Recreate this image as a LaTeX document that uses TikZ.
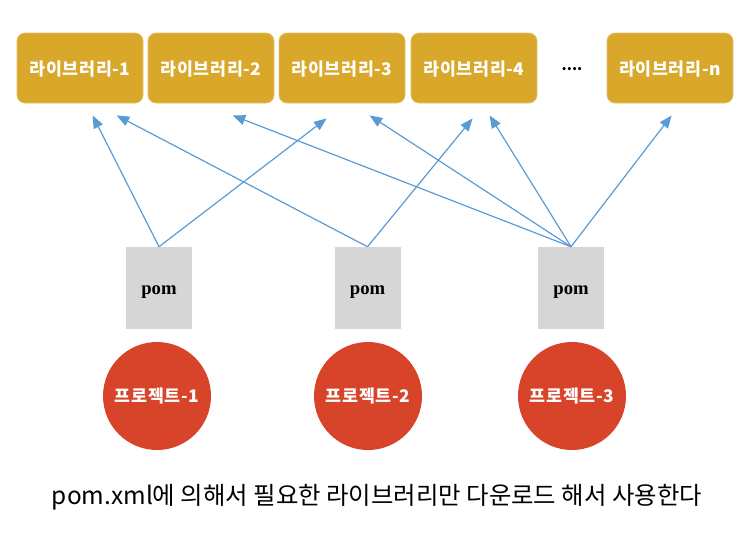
\documentclass[tikz,border=0pt]{standalone}
\usepackage{fontspec}
\setmainfont{Noto Sans CJK KR}
\newfontfamily\lblfont[LetterSpace=4]{Noto Sans CJK KR}
\newfontfamily\pomfont{Liberation Serif}
\usetikzlibrary{arrows.meta}
\definecolor{libgold}{HTML}{D9A82B}
\definecolor{projred}{HTML}{D8442A}
\definecolor{pomgray}{HTML}{D6D6D6}
\definecolor{arrowblue}{HTML}{5B9BD5}
\newcommand{\libtext}[1]{\raisebox{-5.5pt}[0pt][0pt]{#1}}
\newcommand{\pomtext}[1]{\raisebox{-4.5pt}[0pt][0pt]{#1}}
\tikzset{
  libbox/.style={fill=libgold, draw=libgold!70!white, line width=0.6pt, rounded corners=6pt,
    minimum width=126*0.75pt, minimum height=70*0.75pt, inner sep=0pt, text=white,
    font=\lblfont\fontsize{13pt}{14pt}\selectfont\bfseries},
  pombox/.style={fill=pomgray, draw=none, minimum width=66*0.75pt, minimum height=82*0.75pt,
    inner sep=0pt, font=\pomfont\fontsize{14pt}{15pt}\selectfont\bfseries},
  projcircle/.style={circle, fill=projred, draw=none, minimum size=108*0.75pt, inner sep=0pt,
    text=white, font=\lblfont\fontsize{13pt}{15pt}\selectfont\bfseries},
  dep/.style={draw=arrowblue, line width=0.9pt, -{Triangle[length=9.5pt,width=7.5pt]}},
}
\begin{document}
\begin{tikzpicture}[x=0.75pt,y=-0.75pt]
\useasboundingbox (0,0) rectangle (750,537);
% libraries
\node[libbox] (lib1) at (80,68) {\libtext{라이브러리-1}};
\node[libbox] (lib2) at (211,68) {\libtext{라이브러리-2}};
\node[libbox] (lib3) at (342,68) {\libtext{라이브러리-3}};
\node[libbox] (lib4) at (474,68) {\libtext{라이브러리-4}};
\node[font=\fontsize{11pt}{14pt}\selectfont\bfseries] (dots) at (572,69) {....};
\node[libbox] (libn) at (670,68) {\libtext{라이브러리-n}};
% poms
\node[pombox] (pom1) at (159,288) {\pomtext{pom}};
\node[pombox] (pom2) at (367.5,288) {\pomtext{pom}};
\node[pombox] (pom3) at (571,288) {\pomtext{pom}};
% projects
\node[projcircle] (p1) at (157,396) {프로젝트-1};
\node[projcircle] (p2) at (368,396) {프로젝트-2};
\node[projcircle] (p3) at (572,396) {프로젝트-3};
% arrow targets
\coordinate (t11) at ([shift={(76,12)}]lib1.south west);
\coordinate (t13) at ([shift={(48,15)}]lib3.south west);
\coordinate (t21) at ([shift={(100,12)}]lib1.south west);
\coordinate (t24) at ([shift={(62,15)}]lib4.south west);
\coordinate (t32) at ([shift={(85,12)}]lib2.south west);
\coordinate (t33) at ([shift={(91,12)}]lib3.south west);
\coordinate (t34) at ([shift={(79,12)}]lib4.south west);
\coordinate (t3n) at ([shift={(65,12)}]libn.south west);
\draw[dep] (pom1.north) -- (t11);
\draw[dep] (pom1.north) -- (t13);
\draw[dep] (pom2.north) -- (t21);
\draw[dep] (pom2.north) -- (t24);
\draw[dep] (pom3.north) -- (t32);
\draw[dep] (pom3.north) -- (t33);
\draw[dep] (pom3.north) -- (t34);
\draw[dep] (pom3.north) -- (t3n);
% caption
\node[font=\fontsize{18.3pt}{20pt}\selectfont] (cap) at (377,497) {pom.xml에 의해서 필요한 라이브러리만 다운로드 해서 사용한다};
\end{tikzpicture}
\end{document}
